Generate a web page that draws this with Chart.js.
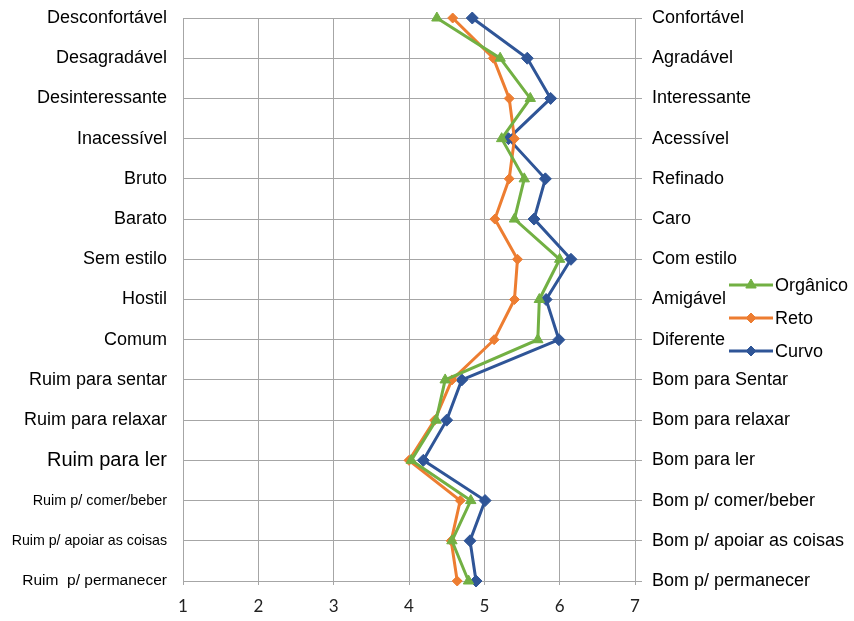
<!DOCTYPE html>
<html>
<head>
<meta charset="utf-8">
<script src="https://cdn.jsdelivr.net/npm/chart.js@4/dist/chart.umd.min.js"></script>
<style>
  html, body { margin: 0; padding: 0; background: #fff; }
  #wrap { width: 854px; height: 621px; position: relative; }
</style>
</head>
<body>
<div id="wrap"><canvas id="c" width="854" height="621"></canvas></div>
<script>
// Semantic differential: negative pole (left) vs positive pole (right), scale 1–7
const leftLabels = [
  'Desconfortável', 'Desagradável', 'Desinteressante', 'Inacessível', 'Bruto',
  'Barato', 'Sem estilo', 'Hostil', 'Comum', 'Ruim para sentar',
  'Ruim para relaxar', 'Ruim para ler', 'Ruim p/ comer/beber',
  'Ruim p/ apoiar as coisas', 'Ruim  p/ permanecer'
];
const rightLabels = [
  'Confortável', 'Agradável', 'Interessante', 'Acessível', 'Refinado',
  'Caro', 'Com estilo', 'Amigável', 'Diferente', 'Bom para Sentar',
  'Bom para relaxar', 'Bom para ler', 'Bom p/ comer/beber',
  'Bom p/ apoiar as coisas', 'Bom p/ permanecer'
];
const scaleTicks = [1, 2, 3, 4, 5, 6, 7];

const organico = [4.37, 5.21, 5.61, 5.23, 5.53, 5.40, 6.00, 5.73, 5.71, 4.48, 4.36, 4.03, 4.82, 4.57, 4.79];
const reto     = [4.58, 5.12, 5.33, 5.40, 5.33, 5.14, 5.44, 5.40, 5.13, 4.57, 4.34, 4.00, 4.68, 4.56, 4.64];
const curvo    = [4.84, 5.57, 5.88, 5.32, 5.81, 5.66, 6.15, 5.82, 5.99, 4.70, 4.50, 4.19, 5.01, 4.81, 4.89];

// left-label font sizes vary per row
const leftSizes = [18, 18, 18, 18, 18, 18, 18, 18, 18, 18, 18, 20, 14.4, 14.2, 15.5];

const GREEN = '#72b043', ORANGE = '#ed7d31', BLUE = '#2f5597';
const GRID = '#a6a6a6';
const FONT = '"Liberation Sans", Arial, sans-serif';

function series(label, data, color, style, radius) {
  return {
    label, data,
    borderColor: color, backgroundColor: color,
    borderWidth: 3, pointStyle: style, pointRadius: radius,
    pointHoverRadius: radius, pointBorderWidth: 1,
    tension: 0, yAxisID: 'y'
  };
}

const legendItems = [
  { label: 'Orgânico', color: GREEN, style: 'triangle', r: 6 },
  { label: 'Reto', color: ORANGE, style: 'rectRot', r: 5 },
  { label: 'Curvo', color: BLUE, style: 'rectRot', r: 5 }
];

const sideLegend = {
  id: 'sideLegend',
  afterDraw(chart) {
    const ctx = chart.ctx;
    const x0 = chart.chartArea.right + 94;
    const ys = [285, 318, 351];
    ctx.save();
    legendItems.forEach((it, i) => {
      const y = ys[i];
      ctx.strokeStyle = it.color;
      ctx.lineWidth = 3;
      ctx.beginPath();
      ctx.moveTo(x0, y);
      ctx.lineTo(x0 + 44, y);
      ctx.stroke();
      ctx.fillStyle = it.color;
      ctx.strokeStyle = it.color;
      ctx.lineWidth = 1;
      Chart.helpers.drawPoint(ctx, { pointStyle: it.style, radius: it.r, borderWidth: 1 }, x0 + 22, y);
      ctx.fillStyle = '#000';
      ctx.font = '18px ' + FONT;
      ctx.textBaseline = 'middle';
      ctx.textAlign = 'left';
      ctx.fillText(it.label, x0 + 46, y + 1);
    });
    ctx.restore();
  }
};

// vertical axes: no extra room reserved for the outermost labels
function noEdgePad(scale) {
  scale.paddingTop = 0;
  scale.paddingBottom = 0;
}

new Chart(document.getElementById('c'), {
  type: 'line',
  data: {
    labels: leftLabels,
    datasets: [
      series('Orgânico', organico, GREEN, 'triangle', 6),
      series('Reto', reto, ORANGE, 'rectRot', 5),
      series('Curvo', curvo, BLUE, 'rectRot', 6)
    ]
  },
  options: {
    indexAxis: 'y',
    responsive: false,
    animation: false,
    layout: { padding: { top: 18, right: 0, bottom: 0, left: 0 } },
    plugins: { legend: { display: false }, tooltip: { enabled: false } },
    scales: {
      x: {
        type: 'linear', position: 'bottom', min: 1, max: 7,
        afterBuildTicks(scale) { scale.ticks = scaleTicks.map(v => ({ value: v })); },
        afterFit(scale) { scale.height = 40; scale.paddingLeft = 0; scale.paddingRight = 0; },
        grid: { color: GRID, lineWidth: 1, tickLength: 4 },
        border: { color: GRID },
        ticks: { color: '#222', font: { family: 'Lato, ' + FONT, size: 17 }, padding: 11 }
      },
      y: {
        type: 'category', position: 'left', labels: leftLabels, offset: false,
        afterFit(scale) { scale.width = 183; noEdgePad(scale); },
        grid: { color: GRID, lineWidth: 1, drawTicks: false },
        border: { color: GRID },
        ticks: {
          color: '#000', padding: 16, autoSkip: false,
          font: (c) => ({ family: FONT, size: leftSizes[c.index] || 18 })
        }
      },
      y2: {
        type: 'category', position: 'right', labels: rightLabels, offset: false,
        afterFit(scale) { scale.width = 219; noEdgePad(scale); },
        grid: { drawOnChartArea: false, color: GRID, tickLength: 7 },
        border: { color: GRID },
        ticks: { color: '#000', padding: 10, autoSkip: false, font: { family: FONT, size: 18 } }
      }
    }
  },
  plugins: [sideLegend]
});
</script>
</body>
</html>
